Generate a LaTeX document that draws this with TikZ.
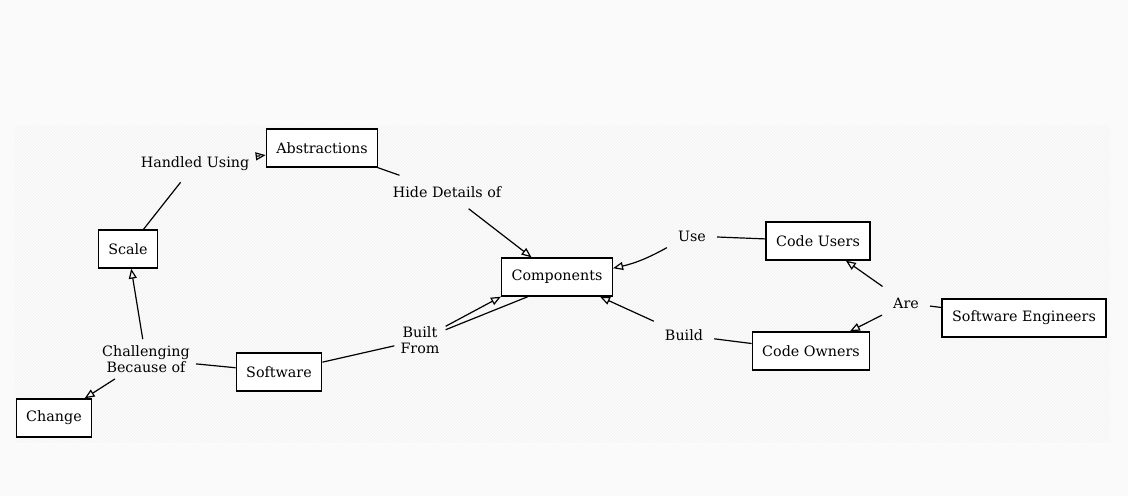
\documentclass[tikz,border=0pt]{standalone}
\usepackage{fontspec}
\setmainfont{DejaVu Serif}
\usetikzlibrary{positioning, arrows.meta, patterns}

\begin{document}
\begin{tikzpicture}[x=1pt, y=-1pt,
        every node/.style={font=\fontsize{14.3}{16.5}\selectfont},
        concept/.style={draw, rectangle, line width=1.3pt, fill=white, inner xsep=10pt, minimum height=38pt},
        phrase/.style={inner sep=11pt, align=center},
        link/.style={line width=1.2pt},
        arrow/.style={line width=1.2pt, -{Triangle[open, length=10pt, width=8pt]}}]
        % Background
        \fill[black!2] (0,0) rectangle (1128,496);
        \fill[black!4] (15,125) rectangle (1110,443);
        \fill[pattern=north east lines, pattern color=white] (15,125) rectangle (1110,443);
        \useasboundingbox (0,0) rectangle (1128,496);
        % Concepts
        \node[concept] (abstractions) at (322,148) {Abstractions};
        \node[concept] (scale) at (128,249) {Scale};
        \node[concept] (change) at (54,418) {Change};
        \node[concept] (software) at (279,372) {Software};
        \node[concept] (components) at (557,277) {Components};
        \node[concept] (codeusers) at (818,241) {Code Users};
        \node[concept] (codeowners) at (811,351) {Code Owners};
        \node[concept] (engineers) at (1024,318) {Software Engineers};
        % Linking phrases
        \node[phrase] (handled) at (195,164) {Handled Using};
        \node[phrase] (hide) at (447,192) {Hide Details of};
        \node[phrase, inner sep=6pt] (challenging) at (146,359) {Challenging\\Because of};
        \node[phrase, inner sep=6pt] (built) at (420,340) {Built\\From};
        \node[phrase] (use) at (692,236) {Use};
        \node[phrase] (build) at (684,335) {Build};
        \node[phrase] (are) at (906,303) {Are};
        % Links
        \draw[link] (scale) -- (handled);
        \draw[arrow] (handled) -- (abstractions);
        \draw[link] (abstractions) -- (hide);
        \draw[arrow] (hide) -- (components);
        \draw[link] (software) -- (challenging);
        \draw[arrow] (challenging) -- (scale);
        \draw[arrow] (challenging) -- (change);
        \draw[link] (software) -- (built);
        \draw[arrow] (built) -- (components.south west);
        \draw[link] (built) -- ([xshift=27pt]components.south west);
        \draw[link] (codeusers) -- (use);
        \draw[arrow] (use) to[bend left=8] (components);
        \draw[link] (codeowners) -- (build);
        \draw[arrow] (build) -- (components);
        \draw[link] (engineers) -- (are);
        \draw[arrow] (are) -- (codeusers);
        \draw[arrow] (are) -- (codeowners);
    \end{tikzpicture}
\end{document}
